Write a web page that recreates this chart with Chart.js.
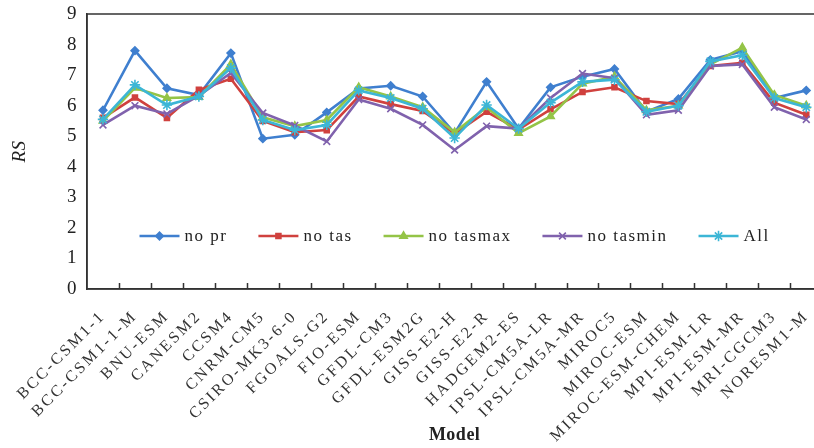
<!DOCTYPE html>
<html>
<head>
<meta charset="utf-8">
<script src="https://cdn.jsdelivr.net/npm/chart.js@4.4.1/dist/chart.umd.min.js"></script>
<style>
html,body{margin:0;padding:0;background:#fff;overflow:hidden;}
#wrap{width:830px;height:448px;}
</style>
</head>
<body>
<div id="wrap"><canvas id="c" width="830" height="448" style="width:830px;height:448px"></canvas></div>
<script>
const models = ['BCC-CSM1-1','BCC-CSM1-1-M','BNU-ESM','CANESM2','CCSM4','CNRM-CM5','CSIRO-MK3-6-0','FGOALS-G2','FIO-ESM','GFDL-CM3','GFDL-ESM2G','GISS-E2-H','GISS-E2-R','HADGEM2-ES','IPSL-CM5A-LR','IPSL-CM5A-MR','MIROC5','MIROC-ESM','MIROC-ESM-CHEM','MPI-ESM-LR','MPI-ESM-MR','MRI-CGCM3','NORESM1-M'];
const seriesNames = ['no pr','no tas','no tasmax','no tasmin','All'];
const noPr     = [5.85, 7.8, 6.57, 6.35, 7.72, 4.92, 5.05, 5.78, 6.56, 6.65, 6.3, 5.1, 6.78, 5.25, 6.6, 6.95, 7.2, 5.8, 6.22, 7.5, 7.78, 6.25, 6.5];
const noTas    = [5.6, 6.27, 5.6, 6.52, 6.88, 5.5, 5.13, 5.2, 6.3, 6.05, 5.83, 5.08, 5.8, 5.22, 5.88, 6.45, 6.6, 6.15, 6.05, 7.3, 7.4, 6.1, 5.7];
const noTasmax = [5.5, 6.58, 6.25, 6.28, 7.35, 5.62, 5.33, 5.53, 6.6, 6.3, 5.95, 5.13, 5.95, 5.1, 5.65, 6.72, 6.95, 5.85, 6.0, 7.35, 7.9, 6.35, 6.0];
const noTasmin = [5.37, 6.0, 5.73, 6.33, 7.07, 5.76, 5.35, 4.83, 6.2, 5.9, 5.37, 4.55, 5.33, 5.25, 6.25, 7.05, 6.9, 5.7, 5.85, 7.3, 7.35, 5.95, 5.55];
const allVars  = [5.55, 6.68, 6.02, 6.3, 7.23, 5.53, 5.2, 5.37, 6.5, 6.25, 5.9, 4.94, 6.02, 5.25, 6.1, 6.78, 6.85, 5.8, 6.0, 7.45, 7.65, 6.25, 5.95];
const yTicks = [0,1,2,3,4,5,6,7,8,9];

const colors = ['#3f7fcf','#d0413e','#94c447','#8062ad','#3cb6d6'];
const styles = ['rectRot','rect','triangle','crossRot','star'];
const radii  = [3.8, 3.5, 4.2, 4.8, 5.2];
const values = [noPr, noTas, noTasmax, noTasmin, allVars];
const SERIF = '"Liberation Serif","DejaVu Serif",serif';

const datasets = seriesNames.map((n,i)=>({
  label:n, data:values[i], borderColor:colors[i], backgroundColor:colors[i],
  pointBackgroundColor:colors[i], pointBorderColor:colors[i],
  pointStyle:styles[i], pointRadius:radii[i], pointBorderWidth:1.6,
  borderWidth:2.6, tension:0, fill:false, order:5-i
}));

const spacingPlugin = {
  id:'spacing',
  beforeUpdate(chart){ chart.ctx.letterSpacing='2.5px'; },
  beforeDraw(chart){ chart.ctx.letterSpacing='0.5px'; },
  afterDatasetsDraw(chart){ chart.ctx.letterSpacing='2.5px'; }
};

const framePlugin = {
  id:'frame',
  afterDraw(chart){
    const ctx = chart.ctx, a = chart.chartArea, xs = chart.scales.x;
    ctx.save();
    ctx.strokeStyle='#333'; ctx.lineWidth=1.5;
    ctx.strokeRect(a.left, a.top, a.right-a.left, a.bottom-a.top);
    const n = models.length;
    const step = xs.getPixelForValue(1)-xs.getPixelForValue(0);
    ctx.beginPath();
    for(let i=1;i<n;i++){
      const x = Math.round(xs.getPixelForValue(i)-step/2)+0.5;
      ctx.moveTo(x,a.bottom); ctx.lineTo(x,a.bottom-6);
    }
    ctx.stroke();
    ctx.restore();
  }
};

const legendPlugin = {
  id:'inLegend',
  afterDatasetsDraw(chart){
    const ctx = chart.ctx, a = chart.chartArea;
    ctx.save();
    ctx.letterSpacing='1.5px';
    ctx.font = '17px '+SERIF;
    ctx.textBaseline='middle';
    const lineW=40, gapT=5, gapItem=31;
    const ds = chart.data.datasets;
    const widths = ds.map(d=>ctx.measureText(d.label).width);
    let total = 0;
    widths.forEach((w,i)=>{ total += lineW+gapT+w + (i<ds.length-1?gapItem:0); });
    let x = (a.left+a.right)/2 - total/2;
    const y = a.bottom - 53;
    ds.forEach((d,i)=>{
      ctx.strokeStyle=d.borderColor; ctx.fillStyle=d.backgroundColor; ctx.lineWidth=2.6;
      ctx.beginPath(); ctx.moveTo(x,y); ctx.lineTo(x+lineW,y); ctx.stroke();
      ctx.lineWidth=1.6;
      if (Chart.helpers && Chart.helpers.drawPoint) {
        Chart.helpers.drawPoint(ctx,{pointStyle:d.pointStyle,radius:d.pointRadius,borderWidth:1.6,rotation:0},x+lineW/2,y);
      }
      ctx.fillStyle='#222';
      ctx.fillText(d.label, x+lineW+gapT, y+1);
      x += lineW+gapT+widths[i]+gapItem;
    });
    ctx.restore();
  }
};

new Chart(document.getElementById('c'), {
  type:'line',
  data:{ labels:models, datasets },
  options:{
    responsive:false, animation:false, devicePixelRatio:1,
    layout:{ padding:{ top:14, right:7, bottom:0, left:0 } },
    plugins:{ legend:{display:false}, tooltip:{enabled:false} },
    scales:{
      x:{
        type:'category', offset:true,
        grid:{ display:false },
        border:{ display:true, color:'#333', width:1.5 },
        ticks:{ autoSkip:false, minRotation:45, maxRotation:45, color:'#333', padding:10, z:1,
                font:{ family:SERIF, size:16 } },
        title:{ display:true, text:'Model', color:'#222', font:{ family:SERIF, size:18, weight:'bold' }, padding:{top:0,bottom:2} },
        afterFit(s){ s.height = 159; }
      },
      y:{
        min:0, max:9,
        grid:{ display:true, drawOnChartArea:false, drawTicks:true, tickLength:8, color:'rgba(0,0,0,0)' },
        border:{ display:true, color:'#333', width:1.5 },
        afterBuildTicks(s){ s.ticks = yTicks.map(v=>({value:v})); },
        ticks:{ color:'#222', padding:2, font:{ family:SERIF, size:19 } },
        title:{ display:true, text:'RS', color:'#222', font:{ family:SERIF, size:19, style:'italic' }, padding:{top:9,bottom:0} },
        afterFit(s){ s.width = 87; }
      }
    }
  },
  plugins:[spacingPlugin, framePlugin, legendPlugin]
});
</script>
</body>
</html>
